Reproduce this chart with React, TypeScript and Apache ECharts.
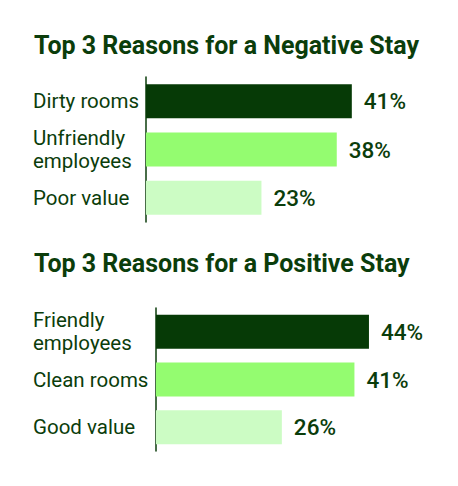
import { useEffect, useRef } from 'react'
import * as echarts from 'echarts'

const negTitle = 'Top 3 Reasons for a Negative Stay'
const negCategories = ['Dirty rooms', 'Unfriendly\nemployees', 'Poor value']
const negValues = [41, 38, 23]

const posTitle = 'Top 3 Reasons for a Positive Stay'
const posCategories = ['Friendly\nemployees', 'Clean rooms', 'Good value']
const posValues = [44, 41, 26]

const barColors = ['#063a06', '#94fc70', '#ccfcc4']
const textColor = '#0b3d0b'
const fontFamily = 'Roboto, "Noto Sans", sans-serif'

export default function App() {
  const chartRef = useRef<HTMLDivElement>(null)

  useEffect(() => {
    if (!chartRef.current) return
    document.body.style.margin = '0'
    const chart = echarts.init(chartRef.current, null, { renderer: 'svg' })

    const yAxisBase = (gridIndex: number, data: string[], margin: number) => ({
      type: 'category' as const,
      gridIndex,
      data,
      inverse: true,
      axisLine: { show: true, lineStyle: { color: textColor, width: 1.5 } },
      axisTick: { show: false },
      axisLabel: {
        margin,
        align: 'left' as const,
        color: textColor,
        fontSize: 20.5,
        lineHeight: 23,
        fontFamily
      }
    })

    const xAxisBase = (gridIndex: number) => ({
      type: 'value' as const,
      gridIndex,
      min: 0,
      max: 50,
      show: false
    })

    const barSeries = (idx: number, values: number[]) => ({
      type: 'bar' as const,
      xAxisIndex: idx,
      yAxisIndex: idx,
      barWidth: 34,
      data: values.map((v, i) => ({ value: v, itemStyle: { color: barColors[i] } })),
      label: {
        show: true,
        position: 'right' as const,
        distance: 12,
        formatter: '{c}%',
        color: textColor,
        fontSize: 22.5,
        fontWeight: 500,
        fontFamily
      }
    })

    const titleStyle = { color: textColor, fontSize: 25, fontWeight: 'bold' as const, fontFamily }

    chart.setOption({
      animation: false,
      backgroundColor: '#ffffff',
      title: [
        { text: negTitle, left: 29, top: 28, textStyle: titleStyle },
        { text: posTitle, left: 29, top: 246, textStyle: titleStyle }
      ],
      grid: [
        { left: 146, top: 77, width: 251, height: 145 },
        { left: 156, top: 308, width: 242, height: 143 }
      ],
      xAxis: [xAxisBase(0), xAxisBase(1)],
      yAxis: [yAxisBase(0, negCategories, 113), yAxisBase(1, posCategories, 123)],
      series: [barSeries(0, negValues), barSeries(1, posValues)]
    })

    return () => {
      chart.dispose()
    }
  }, [])

  return <div ref={chartRef} style={{ width: '458px', height: '486px' }} />
}
